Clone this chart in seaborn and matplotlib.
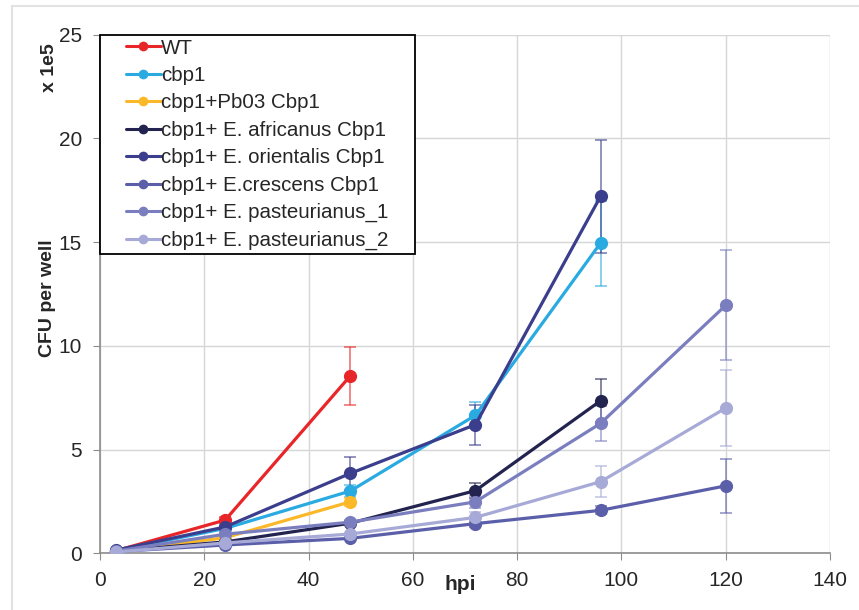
import matplotlib
matplotlib.use("Agg")
import matplotlib.pyplot as plt
import seaborn as sns
import pandas as pd
from matplotlib.patches import Rectangle
from matplotlib.legend_handler import HandlerLine2D
from matplotlib.lines import Line2D

# ---- data ----
strains = ["WT", "cbp1", "cbp1+Pb03 Cbp1", "cbp1+ E. africanus Cbp1",
           "cbp1+ E. orientalis Cbp1", "cbp1+ E.crescens Cbp1",
           "cbp1+ E. pasteurianus_1", "cbp1+ E. pasteurianus_2"]
hpi = {
    "WT": [3, 24, 48],
    "cbp1": [3, 24, 48, 72, 96],
    "cbp1+Pb03 Cbp1": [3, 24, 48],
    "cbp1+ E. africanus Cbp1": [3, 24, 48, 72, 96],
    "cbp1+ E. orientalis Cbp1": [3, 24, 48, 72, 96],
    "cbp1+ E.crescens Cbp1": [3, 24, 48, 72, 96, 120],
    "cbp1+ E. pasteurianus_1": [3, 24, 48, 72, 96, 120],
    "cbp1+ E. pasteurianus_2": [3, 24, 48, 72, 96, 120],
}
wt_vals = [0.12, 1.6, 8.55]
cbp1_vals = [0.12, 1.2, 3.0, 6.65, 14.95]
pb03_vals = [0.1, 0.75, 2.48]
africanus_vals = [0.1, 0.55, 1.45, 3.02, 7.35]
orientalis_vals = [0.15, 1.27, 3.85, 6.2, 17.2]
crescens_vals = [0.08, 0.4, 0.72, 1.43, 2.07, 3.25]
past1_vals = [0.1, 0.92, 1.5, 2.48, 6.26, 11.95]
past2_vals = [0.06, 0.5, 0.93, 1.73, 3.45, 7.0]

wt_err = [0.05, 0.15, 1.38]
cbp1_err = [0.05, 0.1, 0.3, 0.62, 2.05]
pb03_err = [0.05, 0.1, 0.2]
africanus_err = [0.05, 0.08, 0.1, 0.35, 1.03]
orientalis_err = [0.05, 0.1, 0.8, 0.97, 2.72]
crescens_err = [0.05, 0.05, 0.05, 0.15, 0.2, 1.3]
past1_err = [0.05, 0.1, 0.1, 0.3, 0.85, 2.65]
past2_err = [0.05, 0.05, 0.05, 0.25, 0.74, 1.85]

values = [wt_vals, cbp1_vals, pb03_vals, africanus_vals, orientalis_vals,
          crescens_vals, past1_vals, past2_vals]
errors = [wt_err, cbp1_err, pb03_err, africanus_err, orientalis_err,
          crescens_err, past1_err, past2_err]
colors = ["#e8262a", "#29aae1", "#fbb829", "#23234f", "#3b3e8c",
          "#5b5fa9", "#7a7ebf", "#a7aad7"]

rows = []
for s, v, e in zip(strains, values, errors):
    for x, y, er in zip(hpi[s], v, e):
        rows.append({"strain": s, "hpi": x, "cfu": y, "err": er})
df = pd.DataFrame(rows)


class ShiftedLineHandler(HandlerLine2D):
    """Line handle drawn with an empty gap on its left."""
    def __init__(self, shift=1.0, **kw):
        super().__init__(**kw)
        self.shift = shift

    def create_artists(self, legend, orig_handle, xdescent, ydescent,
                       width, height, fontsize, trans):
        s = self.shift * fontsize
        return super().create_artists(legend, orig_handle, xdescent - s,
                                      ydescent, width - s, height,
                                      fontsize, trans)


# ---- plot ----
sns.set_style("white")
plt.rcParams["font.family"] = ["Liberation Sans", "DejaVu Sans"]

fig = plt.figure(figsize=(8.59, 6.10), dpi=100)
ax = fig.add_axes([100 / 859, 1 - 553.3 / 610, 730 / 859, (553.3 - 34.5) / 610])

# outer light frame
fig.patches.append(Rectangle((12 / 859, -0.1), 1.2, 1.1 - 6 / 610,
                             transform=fig.transFigure, fill=False,
                             edgecolor="#e2e2e2", linewidth=1.5, zorder=0))

palette = dict(zip(strains, colors))
for s in strains:
    sub = df[df["strain"] == s]
    ax.errorbar(sub["hpi"], sub["cfu"], yerr=sub["err"], fmt="none",
                ecolor=palette[s], alpha=0.7, elinewidth=1.1, capsize=4,
                capthick=1.1, zorder=2)

sns.lineplot(data=df, x="hpi", y="cfu", hue="strain", hue_order=strains,
             palette=palette, marker="o", markersize=9.5, markeredgewidth=0,
             linewidth=2.3, ax=ax, zorder=3, legend=False)

ax.set_xlim(0, 140)
ax.set_ylim(0, 25)
ax.set_xticks(range(0, 141, 20))
ax.set_yticks(range(0, 26, 5))
ax.grid(True, color="#d6d6d6", linewidth=1)
ax.set_axisbelow(True)
for side in ["top", "right"]:
    ax.spines[side].set_visible(False)
for side in ["left", "bottom"]:
    ax.spines[side].set_color("#8c8c8c")
    ax.spines[side].set_linewidth(1.2)
ax.tick_params(axis="both", labelsize=15, length=5, color="#8c8c8c",
               direction="out", left=True, bottom=True)
ax.tick_params(axis="x", pad=8)
ax.tick_params(axis="y", pad=8)
ax.set_xlabel("")
ax.set_ylabel("")

fig.text(460 / 859, 1 - 585 / 610, "hpi", ha="center", va="center",
         fontsize=15, fontweight="bold")
fig.text(47 / 859, 1 - 298 / 610, "CFU per well", ha="center", va="center",
         rotation=90, fontsize=14, fontweight="bold")
fig.text(49 / 859, 1 - 68 / 610, "x 1e5", ha="center", va="center",
         rotation=90, fontsize=14, fontweight="bold")

handles = [Line2D([], [], color=c, marker="o", markersize=7,
                  markeredgewidth=0, linewidth=2.2) for c in colors]
leg = ax.legend(handles, strains, loc="upper left",
                bbox_to_anchor=(0, 1, 315 / 730, 0), mode="expand",
                fontsize=14.8, frameon=True, fancybox=False,
                edgecolor="black", framealpha=1, borderaxespad=0,
                handlelength=2.75, handletextpad=0.0, labelspacing=0.41,
                borderpad=0.2,
                handler_map={Line2D: ShiftedLineHandler(shift=1.05)})
leg.get_frame().set_linewidth(1.3)
leg.set_zorder(5)

fig.savefig("out.png", dpi=100)
